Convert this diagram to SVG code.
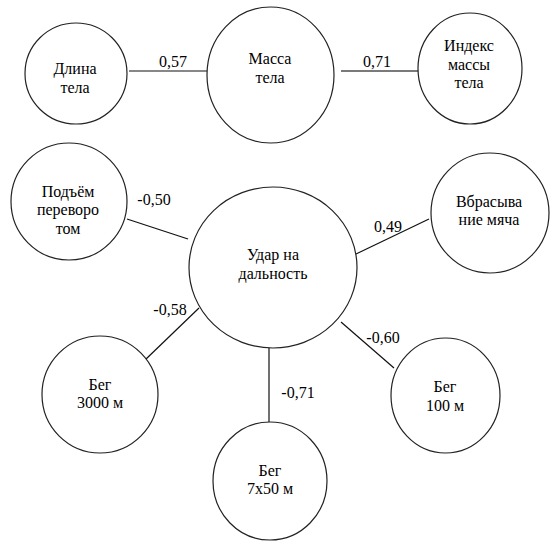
<svg xmlns="http://www.w3.org/2000/svg" width="558" height="548" viewBox="0 0 558 548">
<style>
.n{fill:#fff;stroke:#222;stroke-width:1.2}
.t{font-family:'Liberation Serif','Times New Roman',serif;font-size:16px;fill:#000;text-anchor:middle}
.c{stroke:#111;stroke-width:1.2;fill:none}
</style>
<rect width="558" height="548" fill="#fff"/>
<g id="connectors">
<line class="c" x1="129" y1="71" x2="207" y2="71"/>
<line x1="341" y1="71" x2="418" y2="71" stroke="#7a7a7a" stroke-width="2"/>
<line class="c" x1="127" y1="219" x2="188" y2="239"/>
<line class="c" x1="356" y1="254" x2="429" y2="219"/>
<line class="c" x1="199" y1="308" x2="145" y2="360"/>
<line class="c" x1="269" y1="348" x2="269" y2="422"/>
<line class="c" x1="341" y1="322" x2="394" y2="368"/>
<text class="t" x="173" y="67">0,57</text>
<text class="t" x="377" y="67">0,71</text>
<text class="t" x="154" y="205">-0,50</text>
<text class="t" x="388" y="232">0,49</text>
<text class="t" x="170" y="315">-0,58</text>
<text class="t" x="298" y="398">-0,71</text>
<text class="t" x="383" y="343">-0,60</text>
</g>
<g id="dlina">
<ellipse class="n" cx="76" cy="73.5" rx="51" ry="50.5"/>
<text class="t" x="75" y="74">Длина</text>
<text class="t" x="75" y="93">тела</text>
</g>
<g id="massa">
<ellipse class="n" cx="270.5" cy="75" rx="63.5" ry="68"/>
<text class="t" x="270" y="64">Масса</text>
<text class="t" x="270" y="83">тела</text>
</g>
<g id="index">
<ellipse class="n" cx="470" cy="68.5" rx="52" ry="55.5"/>
<text class="t" x="469" y="51">Индекс</text>
<text class="t" x="469" y="70">массы</text>
<text class="t" x="469" y="88">тела</text>
</g>
<g id="podem">
<ellipse class="n" cx="69" cy="201.5" rx="58" ry="58.5"/>
<text class="t" x="68" y="197">Подъём</text>
<text class="t" x="68" y="215">переворо</text>
<text class="t" x="68" y="234">том</text>
</g>
<g id="udar">
<ellipse class="n" cx="273" cy="267.5" rx="84" ry="80.5"/>
<text class="t" x="273" y="260">Удар на</text>
<text class="t" x="273" y="279">дальность</text>
</g>
<g id="vbros">
<ellipse class="n" cx="490" cy="213" rx="59" ry="60"/>
<text class="t" x="489" y="207">Вбрасыва</text>
<text class="t" x="489" y="225">ние мяча</text>
</g>
<g id="beg3000">
<ellipse class="n" cx="100" cy="394.5" rx="58" ry="58.5"/>
<text class="t" x="100" y="390">Бег</text>
<text class="t" x="100" y="408">3000 м</text>
</g>
<g id="beg750">
<ellipse class="n" cx="270" cy="481" rx="57" ry="59"/>
<text class="t" x="270" y="476">Бег</text>
<text class="t" x="270" y="494">7х50 м</text>
</g>
<g id="beg100">
<ellipse class="n" cx="445.5" cy="395.5" rx="54.5" ry="57.5"/>
<text class="t" x="445" y="392">Бег</text>
<text class="t" x="445" y="411">100 м</text>
</g>
</svg>
